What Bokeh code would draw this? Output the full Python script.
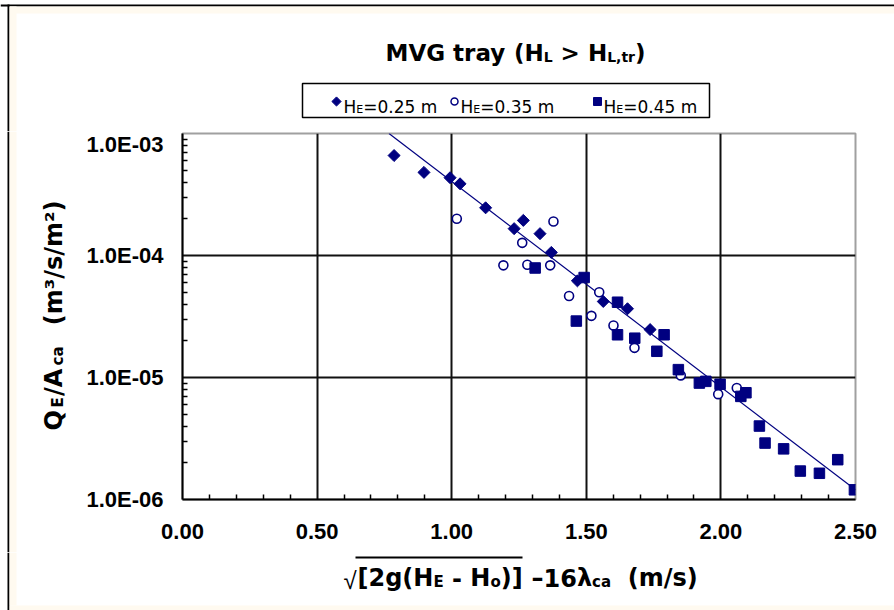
import glob
import struct
import numpy as np
from bokeh.plotting import figure
from bokeh.layouts import column, row
from bokeh.models import FixedTicker, CustomJSTickFormatter, Range1d
from bokeh.core.properties import value
from bokeh.embed import file_html
from bokeh.resources import INLINE

# ---------------- data ----------------
he025_x = [0.786, 0.897, 0.994, 1.031, 1.126, 1.232, 1.266, 1.328, 1.370, 1.467, 1.563, 1.653, 1.737]
he025_y = [6.6e-4, 4.8e-4, 4.34e-4, 3.87e-4, 2.46e-4, 1.66e-4, 1.94e-4, 1.51e-4, 1.06e-4, 6.2e-5, 4.2e-5, 3.66e-5, 2.47e-5]

he035_x = [1.019, 1.192, 1.262, 1.281, 1.366, 1.378, 1.436, 1.519, 1.548, 1.601, 1.679, 1.851, 1.990, 2.059]
he035_y = [2.0e-4, 8.3e-5, 1.27e-4, 8.4e-5, 8.3e-5, 1.9e-4, 4.65e-5, 3.2e-5, 5.0e-5, 2.67e-5, 1.75e-5, 1.04e-5, 7.3e-6, 8.2e-6]

he045_x = [1.310, 1.463, 1.492, 1.616, 1.616, 1.680, 1.762, 1.789, 1.842, 1.920, 1.944, 1.997,
           2.074, 2.093, 2.143, 2.164, 2.233, 2.295, 2.366, 2.434, 2.496]
he045_y = [7.9e-5, 2.9e-5, 6.6e-5, 4.14e-5, 2.24e-5, 2.1e-5, 1.64e-5, 2.24e-5, 1.16e-5, 9.0e-6, 9.3e-6, 8.8e-6,
           7.0e-6, 7.5e-6, 4.0e-6, 2.9e-6, 2.6e-6, 1.71e-6, 1.64e-6, 2.12e-6, 1.2e-6]

trend_x = [0.767, 2.50]
trend_y = [1.0e-3, 1.2e-6]

x_ticks = [0.0, 0.5, 1.0, 1.5, 2.0, 2.5]
x_tick_labels = ["0.00", "0.50", "1.00", "1.50", "2.00", "2.50"]
x_minor = [0.1, 0.2, 0.3, 0.4, 0.6, 0.7, 0.8, 0.9, 1.1, 1.2, 1.3, 1.4, 1.6, 1.7, 1.8, 1.9, 2.1, 2.2, 2.3, 2.4]
y_ticks = [1e-6, 1e-5, 1e-4, 1e-3]
y_tick_labels = ["1.0E-06", "1.0E-05", "1.0E-04", "1.0E-03"]
y_minor = [m * 10.0 ** e for e in (-6, -5, -4) for m in range(2, 10)]

legend_values = ["=0.25 m", "=0.35 m", "=0.45 m"]

NAVY = "#000080"
CREAM = "#fffaf0"

W, H = 894, 610
TOP_H = 131
LEFT_W = 75
BOT_Y = 552
FL, FR, FT, FB = 182, 855, 133, 499


# ---------------- font metrics (for laying out multi-part texts) ----------------
def parse_ttf(path):
    d = open(path, "rb").read()
    n = struct.unpack(">H", d[4:6])[0]
    tab = {}
    for i in range(n):
        tag, _, off, ln = struct.unpack(">4sIII", d[12 + 16 * i:28 + 16 * i])
        tab[tag.decode("latin1")] = off
    upem = struct.unpack(">H", d[tab["head"] + 18:tab["head"] + 20])[0]
    nhm = struct.unpack(">H", d[tab["hhea"] + 34:tab["hhea"] + 36])[0]
    hm = tab["hmtx"]
    adv = [struct.unpack(">H", d[hm + 4 * i:hm + 4 * i + 2])[0] for i in range(nhm)]
    cm = tab["cmap"]
    nsub = struct.unpack(">H", d[cm + 2:cm + 4])[0]
    sub = None
    for i in range(nsub):
        pid, eid, off = struct.unpack(">HHI", d[cm + 4 + 8 * i:cm + 12 + 8 * i])
        fmt = struct.unpack(">H", d[cm + off:cm + off + 2])[0]
        if (pid == 3 and eid in (1, 10)) or pid == 0:
            if fmt == 4 and sub is None:
                sub = (cm + off, 4)
            elif fmt == 12:
                sub = (cm + off, 12)
    o, fmt = sub
    if fmt == 4:
        sx2 = struct.unpack(">H", d[o + 6:o + 8])[0]
        sc = sx2 // 2
        ends = struct.unpack(f">{sc}H", d[o + 14:o + 14 + sx2])
        starts = struct.unpack(f">{sc}H", d[o + 16 + sx2:o + 16 + 2 * sx2])
        deltas = struct.unpack(f">{sc}h", d[o + 16 + 2 * sx2:o + 16 + 3 * sx2])
        rp = o + 16 + 3 * sx2
        rofs = struct.unpack(f">{sc}H", d[rp:rp + sx2])

        def glyph(c):
            for k in range(sc):
                if ends[k] >= c:
                    if starts[k] > c:
                        return 0
                    if rofs[k] == 0:
                        return (c + deltas[k]) & 0xFFFF
                    a = rp + 2 * k + rofs[k] + 2 * (c - starts[k])
                    g = struct.unpack(">H", d[a:a + 2])[0]
                    return (g + deltas[k]) & 0xFFFF if g else 0
            return 0
    else:
        ng = struct.unpack(">I", d[o + 12:o + 16])[0]
        groups = [struct.unpack(">III", d[o + 16 + 12 * i:o + 28 + 12 * i]) for i in range(ng)]

        def glyph(c):
            for s, e, g in groups:
                if s <= c <= e:
                    return g + c - s
            return 0

    def width(ch):
        g = glyph(ord(ch))
        return adv[min(g, nhm - 1)] / upem
    return width


def load(name):
    for path in glob.glob(f"/usr/share/fonts/**/{name}", recursive=True) + \
            glob.glob(f"/usr/local/share/fonts/**/{name}", recursive=True):
        try:
            return parse_ttf(path)
        except Exception:
            pass
    return lambda ch: 0.62


METRICS = {("DejaVu Sans", "bold"): load("DejaVuSans-Bold.ttf"),
           ("DejaVu Sans", "normal"): load("DejaVuSans.ttf")}


def measure(text, size, font, style):
    f = METRICS[(font, style)]
    return sum(f(c) for c in text) * size


# ---------------- helpers ----------------
def blank(width, height, x0, x1, y0, y1):
    f = figure(width=width, height=height, x_range=Range1d(x0, x1), y_range=Range1d(y1, y0),
               output_backend="svg", toolbar_location=None,
               x_axis_location=None, y_axis_location=None,
               min_border=0, min_border_left=0, min_border_right=0,
               min_border_top=0, min_border_bottom=0)
    f.grid.visible = False
    f.outline_line_color = None
    f.background_fill_color = "white"
    f.border_fill_color = "white"
    try:
        f.frame_align = False
    except Exception:
        pass
    return f


def rect(f, l, r, t, b, fill, line=None, lw=1):
    f.quad(left=[l], right=[r], top=[t], bottom=[b], fill_color=fill, line_color=line, line_width=lw)


def txt(f, text, x, y, size, font="DejaVu Sans", style="bold", angle=0.0):
    f.text(x=[x], y=[y], text=[text], text_font=value(font), text_font_size=value(f"{size}px"),
           text_font_style=style, text_baseline="alphabetic", text_align="left",
           angle=angle, text_color="black")


def run(f, segs, start, end, base, vertical=False, font="DejaVu Sans", style="bold"):
    """segs: (text, size, baseline shift, spaces before). If end is given, the parts are
    spread (never squeezed) so that the run reaches end."""
    offs, widths, cur = [], [], 0.0
    for text, size, shift, sp in segs:
        cur += sp * measure(" ", size, font, style)
        offs.append(cur)
        w = measure(text, size, font, style)
        widths.append(w)
        cur += w
    scale = 1.0
    if end is not None and offs[-1] > 0:
        scale = max(1.0, (abs(end - start) - widths[-1]) / offs[-1])
    for (text, size, shift, sp), o in zip(segs, offs):
        if vertical:
            txt(f, text, base + shift, start - o * scale, size, font, style, angle=np.pi / 2)
        else:
            txt(f, text, start + o * scale, base + shift, size, font, style)


# ---------------- main plot ----------------
p = figure(width=W - LEFT_W, height=BOT_Y - TOP_H, x_range=(0, 2.5), y_range=(1e-6, 1e-3),
           y_axis_type="log", output_backend="svg", toolbar_location=None,
           min_border_left=FL - LEFT_W, min_border_right=W - FR,
           min_border_top=FT - TOP_H, min_border_bottom=BOT_Y - FB)
p.background_fill_color = "white"
p.border_fill_color = "white"
p.outline_line_color = "#a0a0a0"
p.outline_line_width = 2

p.xgrid.ticker = FixedTicker(ticks=x_ticks[1:-1])
p.ygrid.ticker = FixedTicker(ticks=y_ticks[1:-1])
for g in (p.xgrid, p.ygrid):
    g.grid_line_color = "#111111"
    g.grid_line_width = 2

p.xaxis.ticker = FixedTicker(ticks=x_ticks, minor_ticks=x_minor)
p.yaxis.ticker = FixedTicker(ticks=y_ticks, minor_ticks=y_minor)
p.xaxis.formatter = CustomJSTickFormatter(args=dict(vals=x_ticks, labs=x_tick_labels), code="""
let b = 0, bd = Infinity;
for (let i = 0; i < vals.length; i++) { const d = Math.abs(tick - vals[i]); if (d < bd) { bd = d; b = i; } }
return labs[b];
""")
p.yaxis.formatter = CustomJSTickFormatter(args=dict(vals=y_ticks, labs=y_tick_labels), code="""
let b = 0, bd = Infinity;
for (let i = 0; i < vals.length; i++) { const d = Math.abs(Math.log10(tick) - Math.log10(vals[i])); if (d < bd) { bd = d; b = i; } }
return labs[b];
""")
for ax in (p.xaxis, p.yaxis):
    ax.axis_line_color = "black"
    ax.axis_line_width = 2
    ax.major_tick_line_color = None
    ax.major_tick_in = 0
    ax.major_tick_out = 0
    ax.minor_tick_line_color = "black"
    ax.minor_tick_line_width = 1.5
    ax.minor_tick_in = 5
    ax.minor_tick_out = 0
    ax.major_label_text_font = "Liberation Sans"
    ax.major_label_text_font_style = "bold"
    ax.major_label_text_color = "black"
    ax.major_label_text_font_size = "22px"
p.xaxis.major_label_standoff = 24
p.yaxis.major_label_standoff = 19

p.line(trend_x, trend_y, line_color=NAVY, line_width=1.2)
p.scatter(he025_x, he025_y, marker="square", angle=np.pi / 4, size=8.5, fill_color=NAVY, line_color=NAVY)
p.scatter(he035_x, he035_y, marker="circle", size=9, fill_color="white", line_color=NAVY, line_width=1.6)
p.scatter(he045_x, he045_y, marker="square", size=10.5, fill_color=NAVY, line_color=NAVY)

# ---------------- top strip: title + legend ----------------
top = blank(W, TOP_H, 0, W, 0, TOP_H)
rect(top, 0, W, 4, 6, "black")
rect(top, 9, W, 6, 13, CREAM)
rect(top, 7, 9, 4, TOP_H, "black")
rect(top, 9, 16, 6, TOP_H, CREAM)

run(top, [("MVG", 23, 0, 0), ("tray", 23, 0, 1), ("(H", 23, 0, 1), ("L", 14, 4, 0),
          (">", 23, 0, 1), ("H", 23, 0, 1), ("L,tr", 14, 4, 0), (")", 23, 0, 0)],
    385, 645, 52)

rect(top, 302, 709, 83, 117, "white", line="black", lw=1.5)
marker_x = [336, 454, 597]
text_x = [343, 460, 603]
top.scatter([marker_x[0]], [101], marker="square", angle=np.pi / 4, size=6.5, fill_color=NAVY, line_color=NAVY)
top.scatter([marker_x[1]], [101], marker="circle", size=7, fill_color="white", line_color=NAVY, line_width=1.5)
top.scatter([marker_x[2]], [101], marker="square", size=8, fill_color=NAVY, line_color=NAVY)
for a, v in zip(text_x, legend_values):
    run(top, [("H", 17, 0, 0), ("E", 11, 3, 0), (v, 17, 0, 0)], a, None, 106, style="normal")

# ---------------- left strip: y-axis title ----------------
left = blank(LEFT_W, BOT_Y - TOP_H, 0, LEFT_W, TOP_H, BOT_Y)
rect(left, 7, 9, TOP_H, BOT_Y, "black")
rect(left, 9, 16, TOP_H, BOT_Y, CREAM)
run(left, [("Q", 24, 0, 0), ("E", 15, 4, 0), ("/A", 24, 0, 0), ("ca", 15, 4, 0),
           ("(m\u00b3/s/m\u00b2)", 24, 0, 2)], 430, 200, 53, vertical=True)

# ---------------- bottom strip: x-axis title ----------------
bot = blank(W, H - BOT_Y, 0, W, BOT_Y, H)
rect(bot, 7, 9, BOT_Y, H, "black")
rect(bot, 9, 16, BOT_Y, 605, CREAM)
rect(bot, 9, W, 605, H, CREAM)
txt(bot, "\u221a", 343, 580, 24, font="Liberation Sans", style="normal")
rect(bot, 355, 522, 556, 558, "black")
run(bot, [("[2g(H", 24, 0, 0), ("E", 15, 4, 0), ("-", 24, 0, 1), ("H", 24, 0, 1),
          ("o", 15, 4, 0), (")]", 24, 0, 0)], 357, 522, 577)
run(bot, [("\u2013", 24, 0, 0), ("16", 24, 0, 0), ("\u03bb", 24, 0, 0), ("ca", 15, 4, 0),
          ("(m/s)", 24, 0, 2)], 531, None, 577)

layout = column(top, row(left, p, spacing=0), bot, spacing=0)

open("out.html", "w").write(file_html(layout, INLINE))
